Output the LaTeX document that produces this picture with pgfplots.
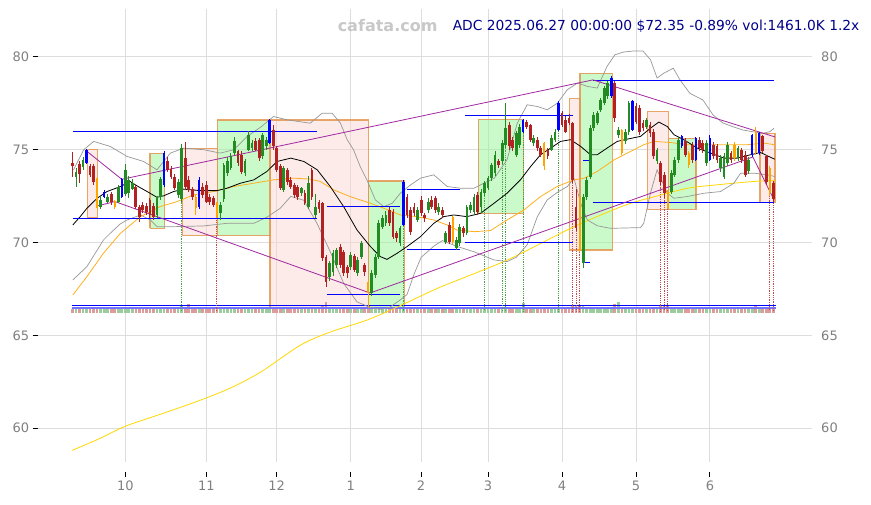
\documentclass[border=0pt]{standalone}
\usepackage{fontspec}
\setmainfont{DejaVu Sans}
\usepackage{pgfplots}
\usepackage{pgfplotstable}
\pgfplotsset{compat=1.18}

\definecolor{cgreen}{RGB}{34,139,34}
\definecolor{cred}{RGB}{178,34,34}
\definecolor{cblue}{RGB}{0,0,255}
\definecolor{corange}{RGB}{255,165,0}
\definecolor{gridc}{RGB}{221,221,221}
\definecolor{tickc}{RGB}{128,128,128}
\definecolor{boxedge}{RGB}{228,150,80}
\definecolor{pinkfill}{RGB}{250,215,210}
\definecolor{greenfill}{RGB}{150,245,150}
\definecolor{purp}{RGB}{160,40,160}
\definecolor{ma50}{RGB}{255,175,30}
\definecolor{ma200}{RGB}{255,215,0}
\definecolor{bandc}{RGB}{150,150,150}
\definecolor{titlec}{RGB}{0,0,139}
\definecolor{markc}{RGB}{200,200,200}

% candles: i open high low close volume(K)
\pgfplotstableread{
i o h l c v
-14 73.51 74.0 73.0 73.77 1000
-12 74.05 74.6 73.9 74.45 950
-7 71.89 72.5 71.8 72.29 1350
-5 72.20 72.6 72.1 72.47 1100
-2 72.20 73.1 72.1 73.00 1050
0 72.60 74.2 72.5 73.90 1400
1 72.65 73.6 72.4 73.37 1100
2 72.90 73.4 72.8 73.20 950
9 71.48 72.5 71.3 72.43 1150
10 72.43 73.5 72.3 73.40 1300
15 72.56 73.4 72.4 73.28 1100
16 72.33 75.3 72.2 75.08 1900
27 71.57 72.2 71.2 72.02 1200
28 72.33 74.3 72.2 74.18 1400
29 73.73 74.6 73.6 74.36 1100
30 74.00 74.8 73.9 74.63 1000
31 74.81 75.7 74.7 75.44 1250
34 73.73 74.5 73.6 74.36 1050
35 74.99 76.0 74.9 75.80 1300
36 75.08 75.5 74.9 75.35 1000
39 74.63 75.9 74.5 75.80 1200
40 75.17 75.7 75.0 75.53 1000
45 72.83 74.1 72.7 74.00 1100
50 72.65 73.0 72.5 72.92 950
52 71.93 73.6 71.8 73.19 1250
54 71.48 72.6 71.3 71.93 1150
58 68.16 69.0 67.9 68.88 1500
59 68.43 69.6 68.2 69.42 1200
60 68.79 69.7 68.6 69.60 1100
64 68.70 69.5 68.5 69.33 900
66 68.34 69.2 68.2 69.06 1000
67 69.24 70.1 69.1 69.96 1150
70 67.26 68.5 67.1 68.34 1600
71 68.25 69.4 68.1 69.24 1300
72 69.24 71.2 69.1 71.03 1400
73 70.85 71.5 70.7 71.30 1100
74 71.03 71.7 70.9 71.48 1000
78 69.96 70.9 69.8 70.76 1200
83 71.21 71.9 71.1 71.75 1000
86 71.75 72.4 71.6 72.20 1150
89 71.66 72.1 71.5 71.93 1050
91 70.05 70.6 69.9 70.49 1300
94 69.69 70.3 69.6 70.13 1100
95 69.96 71.0 69.8 70.85 1200
97 70.49 72.0 70.4 71.93 1300
98 71.75 72.2 71.6 72.02 1100
99 71.66 72.6 71.5 72.47 1250
101 71.93 72.9 71.6 72.74 1100
102 72.65 73.3 72.5 73.19 1500
103 72.92 73.6 72.8 73.46 1200
104 73.46 74.3 73.3 74.18 1300
105 73.73 74.9 73.6 74.72 1250
107 74.36 75.5 74.2 75.35 1600
108 75.26 77.5 75.1 76.15 1700
111 74.72 76.0 74.6 75.88 1250
112 75.26 76.4 75.1 76.24 1300
116 75.35 75.8 75.2 75.62 1100
121 74.99 75.8 74.9 75.62 1100
122 75.53 76.1 75.4 75.97 1250
130 68.88 72.6 68.6 72.47 1900
131 72.47 73.5 72.3 73.37 1500
132 73.55 76.3 73.4 76.15 1600
133 76.15 77.0 76.0 76.87 1300
134 76.42 77.1 76.3 76.96 1200
135 77.14 77.8 77.0 77.68 1250
136 77.50 78.4 77.4 78.31 1300
137 77.86 78.7 77.7 78.58 1200
140 75.80 76.2 75.6 76.06 3000
142 75.44 76.1 75.3 75.97 1200
143 75.97 77.6 75.8 77.50 1300
148 76.24 76.7 76.1 76.60 1000
151 74.36 75.1 74.2 74.99 1200
155 72.74 73.9 72.6 73.73 1300
156 73.64 74.6 73.5 74.45 1200
157 74.45 75.7 74.3 75.53 1250
165 74.27 75.5 74.1 75.35 1200
169 74.00 74.7 73.8 74.54 1000
170 73.55 74.8 73.4 74.63 1200
171 74.27 75.4 74.1 75.26 1100
174 74.54 75.2 74.4 75.08 1100
177 73.82 74.6 73.7 74.45 1100
}\tgreen

\pgfplotstableread{
i o h l c v
-15 74.30 74.86 73.55 74.09 1100
-13 74.20 74.4 73.2 73.70 1200
-10 74.09 74.2 73.5 73.64 1150
-9 74.12 74.2 73.1 73.28 1250
-4 72.60 72.7 72.0 72.20 1200
3 73.00 73.1 71.8 71.93 1300
4 71.90 72.0 71.12 71.39 1350
5 72.00 72.2 71.6 71.75 1100
6 71.97 72.1 71.5 71.66 1000
7 72.29 72.4 71.3 71.48 1250
8 71.97 72.1 71.2 71.39 1200
12 74.36 74.6 73.8 73.91 1200
13 73.95 74.1 73.4 73.55 1000
14 73.55 73.7 72.8 72.92 1250
17 74.54 75.4 72.9 73.00 1450
18 73.37 73.6 72.7 72.83 2400
19 72.90 73.0 72.3 72.44 1200
22 73.00 73.2 72.4 72.56 1100
23 73.10 73.3 72.1 72.20 1200
24 72.47 72.6 72.0 72.20 1000
25 72.38 72.5 71.9 72.00 1150
32 74.90 75.0 74.1 74.27 1150
33 74.72 74.9 73.7 73.82 1200
37 75.44 75.6 74.9 74.99 1100
38 75.53 75.6 74.4 74.54 1250
42 76.06 76.3 75.0 75.17 1300
43 75.08 75.2 73.8 73.91 1350
44 74.09 74.2 72.8 72.92 1250
46 73.91 74.0 73.1 73.28 1000
47 73.37 73.5 72.9 73.01 1050
48 73.10 73.2 72.4 72.56 1150
49 73.01 73.1 72.3 72.47 1200
51 72.65 72.8 72.0 72.11 1100
53 73.91 74.0 72.3 72.47 1300
55 72.20 72.3 71.6 71.80 1200
56 72.10 72.2 69.0 69.15 2000
57 69.24 69.3 67.6 67.89 3100
61 69.78 69.9 68.6 68.79 1150
62 69.51 69.6 68.2 68.34 1250
63 68.70 68.8 68.1 68.34 1000
65 69.28 69.4 68.4 68.52 1100
68 68.79 68.9 68.2 68.43 1300
75 71.75 71.9 70.9 71.03 1150
76 71.66 71.8 70.2 70.31 1300
77 70.49 70.6 70.0 70.22 1100
80 72.47 72.6 71.3 71.48 1300
81 71.75 71.9 70.4 70.58 1250
82 71.93 72.1 71.4 71.57 1100
84 72.29 72.5 71.4 71.57 1200
85 71.48 71.6 71.1 71.30 1050
87 72.29 72.5 71.8 71.93 1100
88 72.38 72.5 71.6 71.75 1200
90 71.75 71.9 71.3 71.48 1100
92 70.94 71.1 69.9 70.05 1250
96 70.76 70.9 70.3 70.49 1050
100 72.56 72.7 71.5 71.66 1150
106 74.36 74.5 74.0 74.18 1000
109 76.33 76.5 75.0 75.17 1300
110 75.53 75.7 74.9 75.08 1100
114 76.51 76.6 76.1 76.24 1400
115 76.33 76.4 75.4 75.53 1300
117 75.53 75.7 74.9 75.08 1250
118 75.08 75.2 74.6 74.72 1150
120 74.99 75.1 74.5 74.63 1200
124 76.96 77.1 76.2 76.33 1300
125 76.60 76.8 75.9 75.97 1200
126 76.69 76.9 76.3 76.42 1150
127 76.42 76.5 73.2 73.37 1900
128 71.93 72.9 70.6 70.76 2000
139 78.58 78.7 76.5 76.69 2400
145 77.32 77.5 76.4 76.51 1200
146 77.23 77.4 75.8 75.97 1350
147 76.42 76.6 76.0 76.15 1100
149 76.33 76.5 75.7 75.88 1150
150 75.97 76.1 74.5 74.63 1400
152 74.27 74.4 73.1 73.28 1900
153 73.64 73.8 72.4 72.65 1800
159 75.44 75.6 74.6 74.72 1150
161 75.26 75.4 74.3 74.45 1100
163 75.53 75.7 74.9 75.08 1100
164 75.35 75.5 74.8 74.99 1000
167 75.26 75.4 74.5 74.63 1150
168 75.17 75.3 74.3 74.45 1250
172 74.81 74.9 74.3 74.45 1050
175 74.99 75.1 74.3 74.45 1000
176 74.72 74.9 73.5 73.64 1200
181 75.71 75.8 74.8 74.90 1200
182 74.63 74.7 73.1 73.28 1500
184 73.19 73.3 72.2 72.35 1461
}\tred

\pgfplotstableread{
i o h l c v
-11 74.30 75.05 74.2 75.00 1300
-6 72.44 72.8 72.4 72.69 1000
-1 72.44 73.45 72.4 73.40 1300
11 73.10 74.9 73.0 74.81 1500
21 71.93 73.5 71.8 73.37 1500
41 75.35 76.65 75.3 76.60 1500
79 70.94 73.35 70.9 73.28 1900
113 75.97 76.65 75.9 76.60 2600
123 76.06 77.6 76.0 77.50 1600
138 77.86 78.95 77.8 78.85 1500
144 76.06 77.65 76.0 77.59 1400
158 75.17 75.8 75.1 75.71 1300
162 74.45 75.7 74.4 75.62 1250
166 74.45 75.8 74.4 75.62 1300
178 74.72 75.85 74.6 75.80 1300
180 74.81 75.95 74.7 75.88 1350
}\tblue

\pgfplotstableread{
i o h l c v
-8 73.46 73.5 71.8 71.84 1500
-3 72.24 72.3 71.8 71.90 1250
20 72.47 72.6 71.5 71.84 1350
26 72.10 72.2 71.3 71.40 1700
69 67.89 68.0 66.45 67.30 2100
93 71.39 71.4 69.9 70.05 1500
119 75.35 75.4 73.9 74.09 1500
129 72.47 72.5 69.5 69.60 2200
141 76.06 76.1 74.7 74.81 1700
154 72.74 72.8 71.8 71.84 2000
160 74.81 74.9 74.0 74.18 1200
173 75.26 75.4 74.4 74.54 1300
179 75.97 76.2 74.7 74.81 1800
183 74.00 74.1 72.5 72.65 1700
}\torange

\pgfplotsset{
  wick/.style={draw=none, forget plot, error bars/.cd, y dir=both, y explicit,
    error mark=none, error bar style={line width=0.9pt, draw=#1}},
  body/.style 2 args={draw=none, forget plot, error bars/.cd, y dir=both, y explicit,
    error mark=none, error bar style={line width=#2, draw=#1}},
  vol/.style={draw=none, forget plot, error bars/.cd, y dir=both, y explicit,
    error mark=none, error bar style={line width=2.7pt, draw=#1}},
  box/.style={draw=boxedge, draw opacity=0.85, line width=1.3pt, fill=#1, fill opacity=0.5, forget plot},
}

\begin{document}
\begin{tikzpicture}
\path[use as bounding box] (0,0) rectangle (871pt,505pt);

\begin{axis}[
  at={(37.7pt,43.3pt)}, anchor=south west, scale only axis,
  width=774pt, height=452.4pt,
  xmin=-24.87, xmax=194.9, ymin=58.2, ymax=82.55,
  axis line style={draw=none},
  xtick={0,23,43,64,84,103,124,145,166},
  xticklabels={10,11,12,1,2,3,4,5,6},
  ytick={60,65,70,75,80},
  xmajorgrids, ymajorgrids,
  major grid style={gridc, line width=0.9pt},
  tick align=outside, major tick length=5pt,
  xtick pos=bottom, ytick pos=left,
  tick style={black, line width=0.9pt},
  xtick style={yshift=-10pt},
  ticklabel style={font=\fontsize{13}{15}\selectfont, text=tickc},
  xticklabel style={yshift=-11pt},
  /pgf/number format/assume math mode=true,
]

% boxes
\addplot[box=pinkfill] coordinates {(-10.79,71.36) (-7.95,71.36) (-7.95,75.02) (-10.79,75.02) (-10.79,71.36)};
\addplot[box=greenfill] coordinates {(7.01,70.76) (11.07,70.76) (11.07,74.80) (7.01,74.80) (7.01,70.76)};
\addplot[box=pinkfill] coordinates {(16.18,70.37) (26.12,70.37) (26.12,75.07) (16.18,75.07) (16.18,70.37)};
\addplot[box=greenfill] coordinates {(26.12,70.37) (41.28,70.37) (41.28,76.59) (26.12,76.59) (26.12,70.37)};
\addplot[box=pinkfill] coordinates {(41.08,66.46) (69.11,66.46) (69.11,76.59) (41.08,76.59) (41.08,66.46)};
\addplot[box=greenfill] coordinates {(69.11,66.46) (79.22,66.46) (79.22,73.31) (69.11,73.31) (69.11,66.46)};
\addplot[box=greenfill] coordinates {(100.23,71.57) (113.0,71.57) (113.0,76.63) (100.23,76.63) (100.23,71.57)};
\addplot[box=pinkfill] coordinates {(126.06,69.60) (129.10,69.60) (129.10,77.76) (126.06,77.76) (126.06,69.60)};
\addplot[box=greenfill] coordinates {(129.10,69.60) (138.27,69.60) (138.27,79.11) (129.10,79.11) (129.10,69.60)};
\addplot[box=pinkfill] coordinates {(148.21,71.79) (154.17,71.79) (154.17,77.04) (148.21,77.04) (148.21,71.79)};
\addplot[box=greenfill] coordinates {(154.17,71.79) (162.04,71.79) (162.04,75.61) (154.17,75.61) (154.17,71.79)};
\addplot[box=pinkfill] coordinates {(180.21,72.14) (184.47,72.14) (184.47,75.88) (180.21,75.88) (180.21,72.14)};

% volume strip
\addplot[vol={cgreen!45}] table[x=i, y expr={66.22+\thisrow{v}/10400}, y error expr={\thisrow{v}/10400}] {\tgreen};
\addplot[vol={cgreen!45}] table[x=i, y expr={66.22+\thisrow{v}/10400}, y error expr={\thisrow{v}/10400}] {\tblue};
\addplot[vol={cred!45}] table[x=i, y expr={66.22+\thisrow{v}/10400}, y error expr={\thisrow{v}/10400}] {\tred};
\addplot[vol={cred!45}] table[x=i, y expr={66.22+\thisrow{v}/10400}, y error expr={\thisrow{v}/10400}] {\torange};
\addplot[cblue, line width=0.9pt, forget plot] coordinates {(-15.2,66.62) (184.8,66.62)};
\addplot[cblue!55, line width=1.4pt, forget plot] coordinates {(-15.2,66.47) (184.8,66.47)};

% dotted signal lines
\addplot[cgreen!80, densely dotted, line width=0.8pt, unbounded coords=jump, forget plot] coordinates {
(16,72.2) (16,66.3) (16,nan) (79,70.9) (79,66.3) (79,nan) (102,72.5) (102,66.3) (102,nan)
(107,74.2) (107,66.3) (107,nan) (108,75.1) (108,66.3) (108,nan) (113,75.9) (113,66.3) (113,nan)
(123,76.0) (123,66.3)};
\addplot[cred!80, densely dotted, line width=0.8pt, unbounded coords=jump, forget plot] coordinates {
(26,71.3) (26,66.3) (26,nan) (127,73.2) (127,66.3) (127,nan) (128,70.6) (128,66.3) (128,nan)
(129,69.5) (129,66.3) (129,nan) (152,73.1) (152,66.3) (152,nan) (153,72.4) (153,66.3) (153,nan)
(154,71.8) (154,66.3) (154,nan) (183,72.5) (183,66.3) (183,nan) (184,72.2) (184,66.3)};

% long moving average
\addplot[ma200, line width=0.8pt, smooth, forget plot] coordinates {
(-15.1,58.81) (-7.1,59.46) (0,60.11) (9.9,60.75) (21.3,61.51) (29.8,62.16) (38.4,63.02)
(49.7,64.47) (58.2,65.18) (68.6,65.82) (78.1,66.6) (89.5,67.6) (108.5,69.06) (127.3,70.84)
(140.6,71.91) (146,72.25) (150,72.45) (159.7,72.92) (169.0,73.12) (178.3,73.28) (184.4,73.33)};

% bands
\addplot[bandc, line width=0.7pt, forget plot] coordinates {
(-14.7,73.91) (-11.8,74.99) (-9.0,75.44) (-4.3,75.17) (0.5,74.63) (5.2,74.36) (9.0,73.91)
(10.9,74.36) (12.8,74.81) (16.6,75.08) (22.3,74.99) (27.0,74.81) (30.8,74.99) (34.6,75.71)
(38.4,76.2) (42.1,76.78) (45.9,76.60) (52.5,76.42) (55.9,76.96) (58.7,76.96) (61.1,76.42)
(63.0,75.53) (64.8,74.99) (66.7,74.09) (68.6,73.37) (71.0,72.29) (73.4,71.93) (75.8,72.11)
(78.1,72.65) (81.0,73.10) (83.8,73.46) (87.6,73.64) (91.4,73.01) (95.2,72.92) (99.0,72.92)
(101.8,73.19) (104.8,73.46) (108.4,74.45) (111.3,76.42) (114.1,77.41) (117.0,77.32)
(119.8,77.14) (122.7,77.50) (125.5,78.22) (128.4,78.58) (131.2,78.40) (134.0,78.31)
(136.8,79.48) (139,80.1) (141.5,80.25) (144,80.3) (147,80.3) (149.1,79.84) (151,78.85)
(152.8,79.1) (155.6,79.38) (157.5,78.75) (160.3,78.03) (164,77.67) (166.9,76.86) (169.7,76.43)
(172.5,76.23) (175.4,76.05) (178.2,75.96) (181.1,75.88) (183,75.96) (184.2,76.15)};
\addplot[bandc, line width=0.7pt, forget plot] coordinates {
(-14.9,67.98) (-10.9,68.70) (-6.2,70.13) (-4.3,70.49) (-1.4,71.0) (0.5,71.21) (4.3,71.48)
(7.1,71.21) (9.0,70.85) (13.7,70.85) (22.3,70.89) (28.9,71.03) (36.5,71.03) (40.2,71.36)
(44.0,71.84) (47,72.48) (50.7,72.27) (54.5,71.0) (58.2,69.5) (62,67.8) (65.8,66.8) (69.6,66.5)
(72.4,66.4) (75,66.5) (78,66.9) (80,67.2) (82,68.3) (84,69.2) (87.6,69.8) (90,70.1) (94,69.8)
(99,69.5) (104.7,69.06) (108.4,68.97) (111,69.2) (114.1,69.87) (117,71.39) (119.8,72.29)
(122.7,72.7) (125.5,73.01) (127.4,73.46) (129.3,72.11) (131.2,71.21) (134,70.9) (137.8,70.76)
(146.3,70.8) (147.2,71.03) (149.1,72.65) (151,73.91) (153.9,72.65) (155.8,72.38) (159.5,72.47)
(164.3,72.65) (169,72.74) (172.8,73.19) (174.7,73.73) (178.5,73.73) (182.3,73.64) (184.4,73.55)};

% mid-term average
\addplot[ma50, line width=0.8pt, forget plot] coordinates {
(-14.9,67.17) (-10.9,68.16) (-6.2,69.42) (-1.4,70.49) (4.3,71.39) (9.9,71.93) (14.7,72.20)
(19.4,72.56) (25.1,72.74) (30.8,73.01) (36.5,73.19) (42.1,73.37) (47.8,73.46) (52.5,73.41)
(55.4,73.28) (59.2,72.83) (63.8,72.47) (69.6,72.11) (73.4,71.84) (78.1,71.48) (82.8,71.39)
(87.6,71.21) (91.4,70.94) (94.2,70.67) (99.2,70.58) (103.7,70.64) (108.4,71.21) (113.2,71.75)
(117.9,72.47) (122.6,73.01) (127.4,73.37) (130.3,73.46) (134.0,73.82) (138.8,74.45) (143.5,74.90)
(147.2,75.26) (150.1,75.44) (154.8,75.38) (159.5,75.26) (165.2,75.26) (170.9,75.26) (176.6,75.26)
(181.3,75.35) (184.4,75.26)};

% short average
\addplot[black, line width=0.8pt, forget plot] coordinates {
(-14.9,70.94) (-12.8,71.39) (-10.9,71.84) (-8.0,72.38) (-5.2,72.74) (-1.4,73.01) (1.4,73.28)
(3.3,73.05) (6.2,72.74) (9.0,72.43) (10.9,72.51) (13.7,72.74) (16.6,72.87) (21.3,72.79)
(26.0,72.79) (28.9,72.92) (32.7,73.19) (36.5,73.37) (40.2,73.82) (43.1,74.36) (47.0,74.54)
(50.7,74.36) (54.5,73.91) (58.2,73.01) (62.0,71.93) (65.8,70.67) (69.6,69.78) (72.4,69.24)
(74.3,69.09) (77.2,69.42) (80.0,69.78) (83.8,70.31) (87.6,71.03) (90.4,71.39) (93.3,71.48)
(97.0,71.39) (100.9,71.57) (104.7,72.11) (108.4,72.65) (112.2,73.37) (115.1,74.09) (117.9,74.72)
(120.8,75.08) (123.6,75.44) (126.4,75.53) (129.3,75.17) (132.1,74.72) (134.0,74.72) (136.8,75.08)
(139.7,75.44) (142.5,75.56) (146.3,75.71) (149.1,76.15) (151.5,76.48) (153.9,76.24) (155.8,75.80)
(158.6,75.53) (162.4,75.08) (166.2,74.81) (170.0,74.54) (173.8,74.54) (177.5,74.72) (180.4,74.84)
(182.7,74.63) (184.4,74.48)};

% horizontal levels
\addplot[cblue, line width=0.9pt, unbounded coords=jump, forget plot] coordinates {
(-14.8,75.98) (54.4,75.98) (0,nan) (-14.8,71.30) (54.4,71.30) (0,nan)
(57.18,71.93) (78.0,71.93) (0,nan) (57.18,67.21) (78.0,67.21) (0,nan)
(79.9,72.83) (95.0,72.83) (0,nan) (79.9,69.60) (95.0,69.60) (0,nan)
(96.45,76.86) (127.2,76.86) (0,nan) (96.45,70.01) (127.2,70.01) (0,nan)
(130,74.44) (132,74.44) (0,nan) (130,68.95) (132,68.95) (0,nan)
(132.8,78.71) (184.2,78.71) (0,nan) (132.8,72.14) (184.2,72.14)};

% trend lines
\addplot[purp, line width=0.8pt, forget plot] coordinates {(-10.79,74.89) (-1.0,73.40) (132.8,78.75) (184.47,75.68)};
\addplot[purp, line width=0.8pt, forget plot] coordinates {(-8.12,71.96) (-2.92,72.20) (69.48,67.28) (178.2,74.60) (184.2,72.29)};

% candles
\addplot[wick=cgreen] table[x=i, y expr={(\thisrow{h}+\thisrow{l})/2}, y error expr={(\thisrow{h}-\thisrow{l})/2}] {\tgreen};
\addplot[wick=cred] table[x=i, y expr={(\thisrow{h}+\thisrow{l})/2}, y error expr={(\thisrow{h}-\thisrow{l})/2}] {\tred};
\addplot[wick=cblue] table[x=i, y expr={(\thisrow{h}+\thisrow{l})/2}, y error expr={(\thisrow{h}-\thisrow{l})/2}] {\tblue};
\addplot[wick=corange] table[x=i, y expr={(\thisrow{h}+\thisrow{l})/2}, y error expr={(\thisrow{h}-\thisrow{l})/2}] {\torange};
\addplot[body={cgreen}{2.8pt}] table[x=i, y expr={(\thisrow{o}+\thisrow{c})/2}, y error expr={abs(\thisrow{c}-\thisrow{o})/2}] {\tgreen};
\addplot[body={cred}{2.8pt}] table[x=i, y expr={(\thisrow{o}+\thisrow{c})/2}, y error expr={abs(\thisrow{c}-\thisrow{o})/2}] {\tred};
\addplot[body={cblue}{2.4pt}] table[x=i, y expr={(\thisrow{o}+\thisrow{c})/2}, y error expr={abs(\thisrow{c}-\thisrow{o})/2}] {\tblue};
\addplot[body={corange}{2.2pt}] table[x=i, y expr={(\thisrow{o}+\thisrow{c})/2}, y error expr={abs(\thisrow{c}-\thisrow{o})/2}] {\torange};
\end{axis}

% right-hand price labels
\begin{axis}[
  at={(37.7pt,43.3pt)}, anchor=south west, scale only axis,
  width=774pt, height=452.4pt,
  xmin=-24.87, xmax=194.9, ymin=58.2, ymax=82.55,
  hide x axis, axis y line*=right, axis line style={draw=none},
  ytick={60,65,70,75,80}, major tick length=0pt,
  yticklabel style={font=\fontsize{13}{15}\selectfont, text=tickc, xshift=6pt},
  /pgf/number format/assume math mode=true,
]
\addplot[draw=none] coordinates {(0,70)};
\end{axis}

\node[anchor=east, text=markc, font=\bfseries\fontsize{16}{18}\selectfont] at (441pt,479pt) {cafata.com};
\node[anchor=east, text=titlec, font=\fontsize{13.8}{16}\selectfont] at (863pt,479pt) {ADC 2025.06.27 00:00:00 \$72.35 -0.89\% vol:1461.0K 1.2x};
\end{tikzpicture}
\end{document}
